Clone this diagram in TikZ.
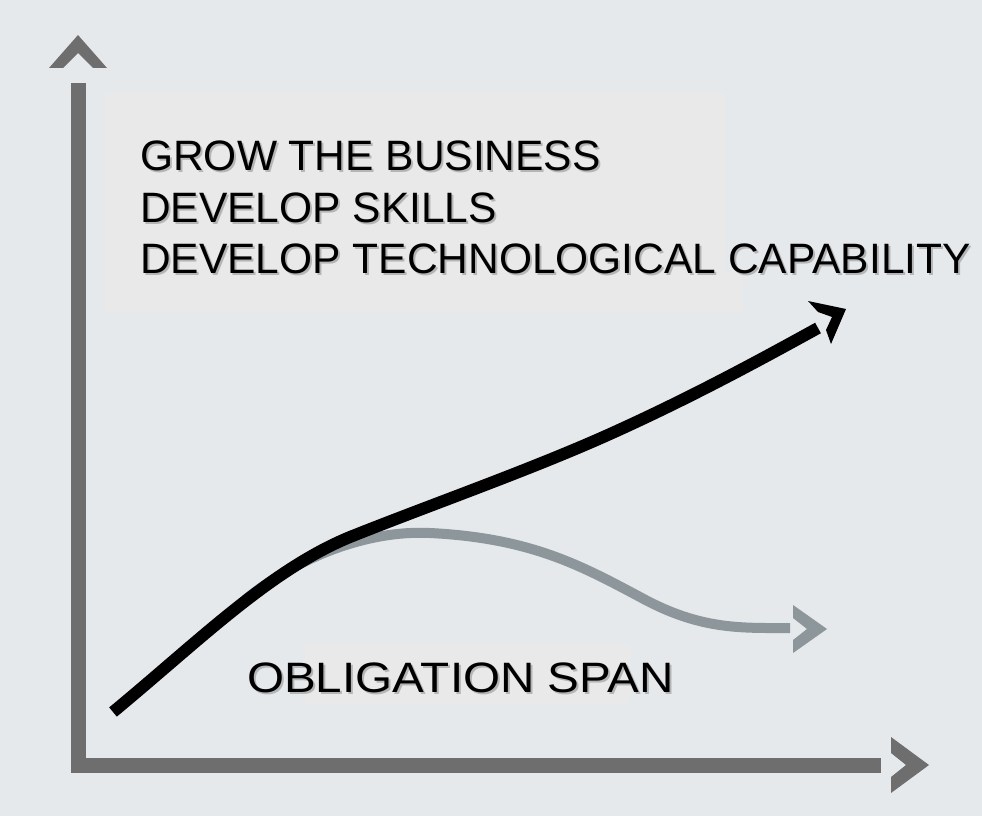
\documentclass[tikz,border=0pt]{standalone}
\usepackage{fontspec}
\setmainfont{Liberation Sans}
\definecolor{bgcol}{HTML}{E6E9EC}
\definecolor{boxcol}{HTML}{E9E9EA}
\definecolor{axiscol}{HTML}{6E6E6E}
\definecolor{spancol}{HTML}{8C969B}
\tikzset{
  caption/.style={anchor=base west, inner sep=0pt, font=\fontsize{42.5}{50}\selectfont},
  captionshadow/.style={caption, text=black!45, opacity=0.55},
}
\begin{document}
\begin{tikzpicture}[x=1pt,y=-1pt]
            \fill[bgcol] (0,0) rectangle (982,816);
            \useasboundingbox (0,0) rectangle (982,816);

            % lighter boxes behind the texts
            \fill[boxcol] (105,93) -- (725,93) -- (725,273) -- (742,273) -- (742,312) -- (105,312) -- cycle;
            \fill[boxcol] (305,645) rectangle (630,703);

            % axes
            \draw[axiscol, line width=15pt] (78,83) -- (78,765) -- (881,765);
            \fill[axiscol] (78,35) -- (107,68) -- (93,68) -- (78,53) -- (63,68) -- (49,68) -- cycle;
            \fill[axiscol] (891,737) -- (929,765) -- (891,793) -- (891,777) -- (906,765) -- (891,753) -- cycle;

            % obligation span curve
            \draw[spancol, line width=10pt] (245,600) .. controls (300,555) and (370,530) .. (430,533)
                .. controls (530,538) and (580,565) .. (640,597)
                .. controls (700,630) and (740,628) .. (790,628);
            \fill[spancol] (793,605) -- (827,629) -- (793,653) -- (793,640) -- (807,629) -- (793,618) -- cycle;

            % growth curve
            \draw[black, line width=12pt] (113,712) .. controls (200,640) and (270,570) .. (350,537)
                .. controls (430,505) and (530,470) .. (610,434)
                .. controls (690,398) and (760,360) .. (818,328);
            \fill[black] (808,301) -- (846,309) -- (831,344) -- (826,330) -- (832,317) -- (818,312) -- cycle;

            % texts (with drop shadow)
            \node[captionshadow] (growS) at (142,172.5) {GROW THE BUSINESS};
            \node[caption] (grow) at (140,170) {GROW THE BUSINESS};
            \node[captionshadow] (skillsS) at (142,224.5) {DEVELOP SKILLS};
            \node[caption] (skills) at (140,222) {DEVELOP SKILLS};
            \node[captionshadow] (techS) at (142,275.5) {DEVELOP TECHNOLOGICAL CAPABILITY};
            \node[caption] (tech) at (140,273) {DEVELOP TECHNOLOGICAL CAPABILITY};
            \node[captionshadow] (spanS) at (249,694.5) {\scalebox{1.12}[1]{OBLIGATION SPAN}};
            \node[caption] (span) at (247,692) {\scalebox{1.12}[1]{OBLIGATION SPAN}};
        \end{tikzpicture}
\end{document}
